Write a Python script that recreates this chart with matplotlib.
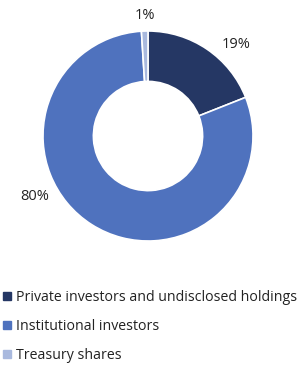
import matplotlib
matplotlib.use('Agg')
import matplotlib.pyplot as plt
from matplotlib.lines import Line2D

plt.rcParams['font.family'] = ['Open Sans', 'DejaVu Sans']

categories = ['Private investors and undisclosed holdings', 'Institutional investors', 'Treasury shares']
shares = [19, 80, 1]
pct_labels = ['19%', '80%', '1%']
colors = ['#253764', '#4F72BE', '#A9B9DE']
# label positions (data units, pie radius = 1), as placed in the original
label_pos = [(0.84, 0.87), (-1.08, -0.58), (-0.03, 1.15)]

fig = plt.figure(figsize=(2.98, 3.65), dpi=100)
ax = fig.add_axes([43 / 298, 124 / 365, 210 / 298, 210 / 365])

ax.pie(shares, colors=colors, startangle=90, counterclock=False, radius=1,
       wedgeprops=dict(width=0.48, edgecolor='white', linewidth=1.2))
ax.set_xlim(-1, 1)
ax.set_ylim(-1, 1)
ax.set_aspect('equal')
ax.axis('off')

for txt, (x, y) in zip(pct_labels, label_pos):
    ax.text(x, y, txt, ha='center', va='center', fontsize=10.5, color='#222222')

handles = [Line2D([], [], marker='s', linestyle='', markersize=5.5,
                  markerfacecolor=c, markeredgecolor=c) for c in colors]
fig.legend(handles, categories, loc='upper left', bbox_to_anchor=(0.0, 0.212),
           frameon=False, fontsize=10.2, handlelength=0.6, handletextpad=0.3,
           labelspacing=0.98, borderaxespad=0, borderpad=0.2, labelcolor='#222222')

fig.savefig('out.png', dpi=100)
